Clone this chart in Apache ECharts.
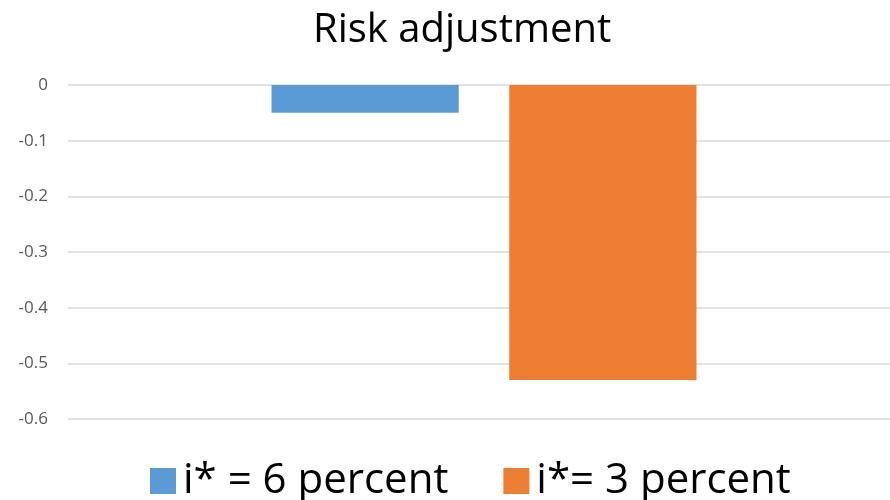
<!DOCTYPE html>
<html>
<head>
<meta charset="utf-8">
<script src="https://cdn.jsdelivr.net/npm/echarts@6/dist/echarts.min.js"></script>
<style>
  html, body { margin: 0; padding: 0; background: #fff; }
  #chart { width: 890px; height: 500px; }
</style>
</head>
<body>
<div id="chart"></div>
<script>
// Risk adjustment under two threshold rates
const categories = ['Risk adjustment'];
const seriesNames = ['i* = 6 percent', 'i*= 3 percent'];
const sixPercent = [-0.05];
const threePercent = [-0.53];
const yTicks = { min: -0.6, max: 0, interval: 0.1 };

const chart = echarts.init(document.getElementById('chart'));
const font = 'Open Sans';

chart.setOption({
  animation: false,
  backgroundColor: '#ffffff',
  title: {
    text: 'Risk adjustment',
    left: 308,
    top: 6,
    textStyle: { fontFamily: font, fontSize: 40, fontWeight: 'normal', color: '#000000' }
  },
  legend: {
    data: seriesNames,
    left: 145,
    top: 455,
    itemWidth: 26,
    itemHeight: 26,
    itemGap: 55,
    icon: 'rect',
    textStyle: { fontFamily: font, fontSize: 42, color: '#000000', padding: [0, 0, 0, 2] }
  },
  grid: {
    left: 68, top: 85, width: 832, height: 334,
    containLabel: false,
    outerBoundsMode: 'none'
  },
  xAxis: {
    type: 'category',
    data: categories,
    position: 'top',
    axisLine: { show: false },
    axisTick: { show: false },
    axisLabel: { show: false }
  },
  yAxis: {
    type: 'value',
    min: yTicks.min,
    max: yTicks.max,
    interval: yTicks.interval,
    axisLine: { show: false },
    axisTick: { show: false },
    axisLabel: {
      margin: 20,
      fontFamily: font,
      fontSize: 17,
      color: '#595959',
      formatter: v => (Math.abs(v) < 1e-9 ? '0' : String(Math.round(v * 10) / 10))
    },
    splitLine: { lineStyle: { color: '#d9d9d9', width: 1.5 } }
  },
  series: [
    {
      name: seriesNames[0],
      type: 'bar',
      data: sixPercent,
      barWidth: '22.5%',
      barGap: '27%',
      itemStyle: { color: '#5b9bd5' }
    },
    {
      name: seriesNames[1],
      type: 'bar',
      data: threePercent,
      barWidth: '22.5%',
      itemStyle: { color: '#ed7d31' }
    }
  ]
});
</script>
</body>
</html>
